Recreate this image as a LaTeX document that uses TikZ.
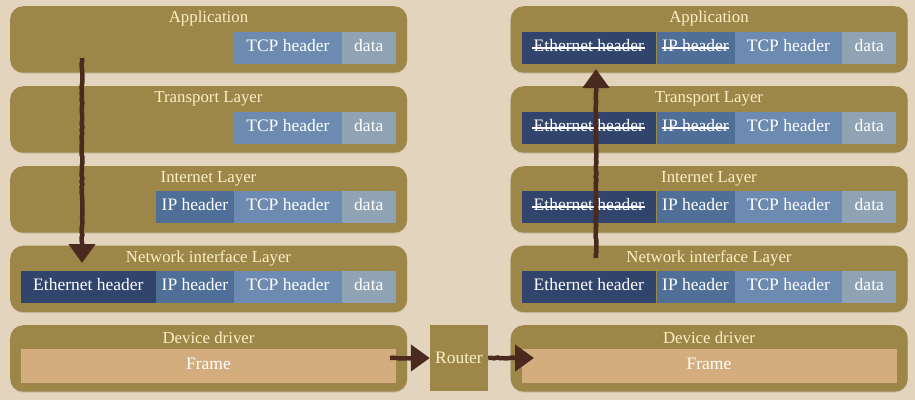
\documentclass[tikz,border=0pt]{standalone}
\usepackage{fontspec}
\setmainfont{Liberation Serif}
\usetikzlibrary{positioning,arrows.meta,shadows,decorations.pathmorphing}

\definecolor{fondo}{HTML}{E3D4BD}
\definecolor{oliva}{HTML}{9C8748}
\definecolor{crema}{HTML}{FBEFC4}
\definecolor{azulmar}{HTML}{31446C}
\definecolor{azulip}{HTML}{4F6F96}
\definecolor{azultcp}{HTML}{6D8BB0}
\definecolor{azuldat}{HTML}{8FA3B5}
\definecolor{arena}{HTML}{D3AD7D}
\definecolor{tiza}{HTML}{4A2A1E}

\tikzset{
  capa/.style={fill=oliva,rounded corners=13pt,minimum width=397pt,minimum height=66.5pt,
    anchor=north west,inner sep=0pt,drop shadow={shadow xshift=0pt,shadow yshift=-1pt,opacity=.25}},
  titulo/.style={text=crema,font=\fontsize{16.8}{20}\selectfont,inner sep=0pt},
  caja/.style={text=white,font=\fontsize{17.5}{20}\selectfont,inner sep=0pt,minimum height=31.5pt,
    text height=12pt,text depth=5.4pt},
  cajaeth/.style={caja,fill=azulmar,minimum width=134.5pt},
  cajaip/.style={caja,fill=azulip,minimum width=78pt},
  cajatcp/.style={caja,fill=azultcp,minimum width=107pt},
  cajadat/.style={caja,fill=azuldat,minimum width=54pt,anchor=east},
  cajafrm/.style={caja,fill=arena,minimum width=375pt,minimum height=34pt},
  tachado/.style={draw=white,line width=1.2pt},
  tizaflecha/.style={draw=tiza,line width=4.5pt,-{Triangle[length=19pt,width=26pt]},
    decorate,decoration={random steps,segment length=3pt,amplitude=.5pt,post length=6pt}}
}

\begin{document}
\begin{tikzpicture}[x=1pt,y=-1pt]

      % Fondo
      \fill[fondo] (0,0) rectangle (915,400);

      % Capas de ambas pilas
      \foreach \lado/\xo in {izq/10,der/510.5} {
        \foreach \capa/\yo/\txt in {apl/6/Application,tra/86/Transport Layer,int/166/Internet Layer,red/245.5/Network interface Layer,dis/325/Device driver} {
          \node[capa] (\lado\capa) at (\xo,\yo) {};
          \node[titulo] (t\lado\capa) at (\xo+198.5,\yo+12.5) {\txt};
        }
        \node[cajafrm] (\lado frm) at (\xo+198.5,366) {Frame};
      }

      % Cajas de datos y TCP
      \foreach \lado/\xo in {izq/396,der/896.5} {
        \foreach \capa/\yc in {apl/48,tra/128,int/207,red/287} {
          \node[cajadat] (\lado\capa dat) at (\xo,\yc) {data};
          \node[cajatcp,left=0pt of \lado\capa dat] (\lado\capa tcp) {TCP header};
        }
      }

      % Cabeceras IP
      \foreach \nombre in {izqint,izqred,derapl,dertra,derint,derred} {
        \node[cajaip,left=0pt of \nombre tcp] (\nombre ip) {IP header};
      }

      % Cabeceras Ethernet
      \foreach \nombre in {izqred,derapl,dertra,derint,derred} {
        \node[cajaeth,left=0pt of \nombre ip] (\nombre eth) {Ethernet header};
      }

      % Tachaduras
      \foreach \nombre in {derapl,dertra} {
        \draw[tachado] ([xshift=6pt]\nombre ip.west) -- ([xshift=-6pt]\nombre ip.east);
      }
      \foreach \nombre in {derapl,dertra,derint} {
        \draw[tachado] ([xshift=11pt]\nombre eth.west) -- ([xshift=-11pt]\nombre eth.east);
      }

      % Enrutador
      \node[fill=oliva,text=crema,font=\fontsize{17.5}{20}\selectfont,inner sep=0pt,
        minimum width=58pt,minimum height=66.5pt] (router) at (459,358) {Router};

      % Flechas
      \coordinate (bajaini) at (82,58);
      \coordinate (bajafin) at (82,263);
      \coordinate (subeini) at (596,258);
      \coordinate (subefin) at (596,69);
      \coordinate (salida) at (390,358);
      \coordinate (llegada) at (534,358);
      \draw[tizaflecha] (bajaini) -- (bajafin);
      \draw[tizaflecha] (subeini) -- (subefin);
      \draw[tizaflecha] (salida) -- (router.west);
      \draw[tizaflecha] (router.east) -- (llegada);

\end{tikzpicture}
\end{document}
